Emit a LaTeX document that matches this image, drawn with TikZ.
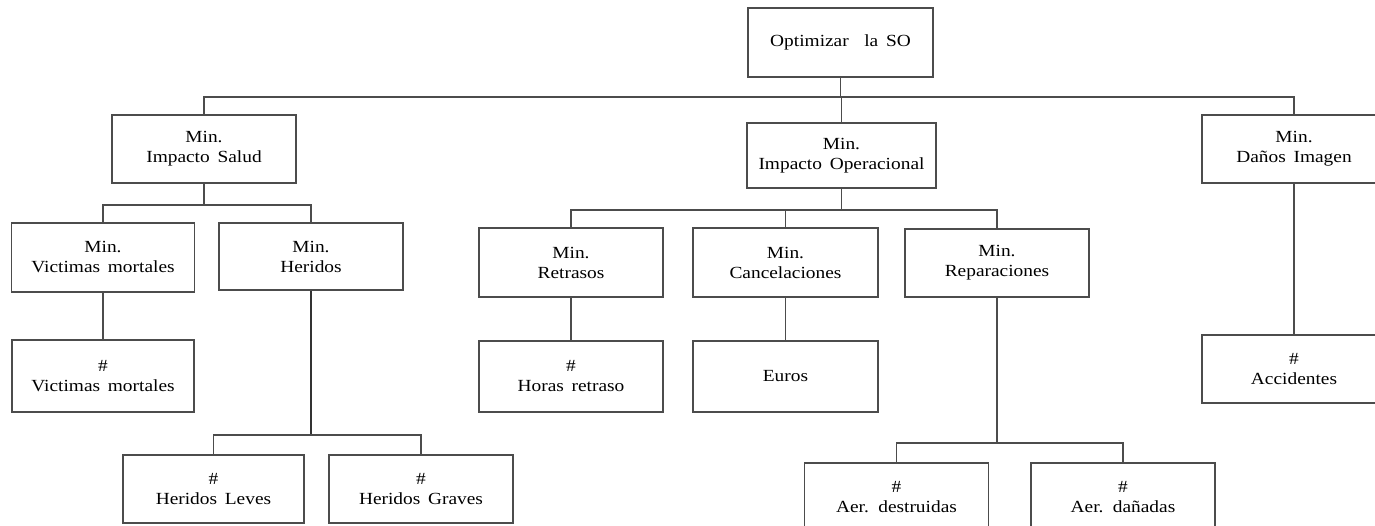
\documentclass[tikz,border=0pt]{standalone}
\usepackage{fontspec}
\setmainfont{Liberation Serif}[WordSpace=1.6, FakeStretch=1.14]
\begin{document}
\begin{tikzpicture}[x=1pt,y=-1pt,
  line width=1.3pt,
  lnk/.style={draw=black!70},
  boxn/.style={draw=black!70, fill=white, rectangle, align=center,
    minimum width=184pt, minimum height=68pt, inner sep=2pt,
    font=\fontsize{17}{20}\selectfont}]
\useasboundingbox (0,0) rectangle (1375,526);
\clip (0,0) rectangle (1375,526);

% levels of the tree
\node[boxn, minimum width=185pt, minimum height=69pt] (top) at (840.5,42.5) {Optimizar \ la SO};

\node[boxn] (salud) at (204,149) {Min.\\Impacto Salud};
\node[boxn, minimum width=189pt, minimum height=65pt] (oper) at (841.5,155.5) {Min.\\Impacto Operacional};
\node[boxn] (imagen) at (1294,149) {Min.\\Daños Imagen};

\node[boxn, minimum width=183pt, minimum height=69pt] (vict) at (103,257.5) {Min.\\Victimas mortales};
\node[boxn, minimum height=67pt] (herid) at (311,256.5) {Min.\\Heridos};
\node[boxn, minimum height=69pt] (retr) at (571,262.5) {Min.\\Retrasos};
\node[boxn, minimum width=185pt, minimum height=69pt] (canc) at (785.5,262.5) {Min.\\Cancelaciones};
\node[boxn] (repar) at (997,263) {Min.\\Reparaciones};

\node[boxn, minimum width=182pt, minimum height=72pt] (nvict) at (103,376) {\#\\Victimas mortales};
\node[boxn, minimum height=71pt] (horas) at (571,376.5) {\#\\Horas retraso};
\node[boxn, minimum width=185pt, minimum height=71pt] (euros) at (785.5,376.5) {Euros};
\node[boxn] (acc) at (1294,369) {\#\\Accidentes};

\node[boxn, minimum width=181pt] (hleves) at (213.5,489) {\#\\Heridos Leves};
\node[boxn] (hgraves) at (421,489) {\#\\Heridos Graves};
\node[boxn] (aerd) at (896.5,497) {\#\\Aer. destruidas};
\node[boxn] (aerda) at (1123,497) {\#\\Aer. dañadas};

% bus levels
\coordinate (b0) at (0,97);
\coordinate (b1) at (0,205);
\coordinate (b2) at (0,210);
\coordinate (b3) at (0,435);
\coordinate (b4) at (0,443);

% connectors
\draw[lnk] (top.south) -- (top.south |- b0);
\draw[lnk] (salud.north) -- (salud.north |- b0) -- (imagen.north |- b0) -- (imagen.north);
\draw[lnk] (oper.north) -- (oper.north |- b0);

\draw[lnk] (salud.south) -- (salud.south |- b1);
\draw[lnk] (vict.north) -- (vict.north |- b1) -- (herid.north |- b1) -- (herid.north);

\draw[lnk] (oper.south) -- (oper.south |- b2);
\draw[lnk] (retr.north) -- (retr.north |- b2) -- (repar.north |- b2) -- (repar.north);
\draw[lnk] (canc.north) -- (canc.north |- b2);

\draw[lnk] (vict.south) -- (nvict.north);
\draw[lnk] (retr.south) -- (horas.north);
\draw[lnk] (canc.south) -- (euros.north);
\draw[lnk] (imagen.south) -- (acc.north);

\draw[lnk, draw=black!80] (herid.south) -- (herid.south |- b3);
\draw[lnk] (hleves.north) -- (hleves.north |- b3) -- (hgraves.north |- b3) -- (hgraves.north);

\draw[lnk] (repar.south) -- (repar.south |- b4);
\draw[lnk] (aerd.north) -- (aerd.north |- b4) -- (aerda.north |- b4) -- (aerda.north);
\end{tikzpicture}
\end{document}
